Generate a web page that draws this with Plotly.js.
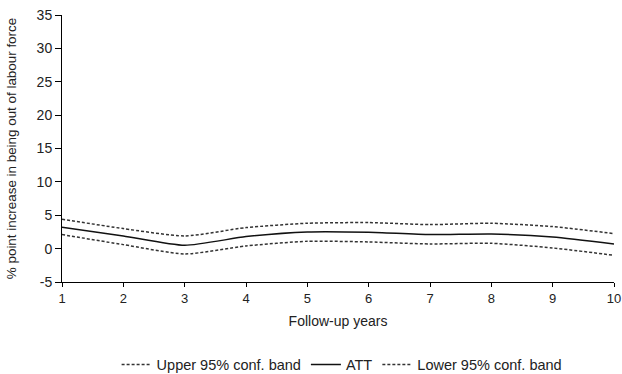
<!DOCTYPE html>
<html><head><meta charset="utf-8">
<script src="https://cdn.plot.ly/plotly-3.0.1.min.js"></script>
<style>body{margin:0;background:#fff}#c{width:622px;height:374px}</style>
</head><body><div id="c"></div>
<script>
const years = [1,2,3,4,5,6,7,8,9,10];
const upper = [4.4,3.0,1.9,3.15,3.8,3.9,3.6,3.8,3.3,2.25];
const att   = [3.2,1.9,0.5,1.8,2.5,2.45,2.1,2.2,1.75,0.7];
const lower = [2.1,0.6,-0.8,0.4,1.1,1.0,0.7,0.8,0.1,-1.0];
const seriesNames = ["Upper 95% conf. band","ATT","Lower 95% conf. band"];
const yTickVals = [-5,0,5,10,15,20,25,30,35];
const yTickText = ["-5","0","5","10","15","20","25","30","35"];

const fam = "Liberation Sans, Arial, sans-serif";
const f = {family:fam, size:14, color:"#222"};
const lf = {family:fam, size:14.5, color:"#222"};
const traces = [
  {x:years,y:upper,name:seriesNames[0],mode:"lines",line:{color:"#333",width:1.5,dash:"3px,2px",shape:"spline",smoothing:0.6}},
  {x:years,y:att,name:seriesNames[1],mode:"lines",line:{color:"#111",width:1.5,shape:"spline",smoothing:0.6}},
  {x:years,y:lower,name:seriesNames[2],mode:"lines",line:{color:"#333",width:1.5,dash:"3px,2px",shape:"spline",smoothing:0.6}}
];
const layout = {
  width:622,height:374,
  margin:{l:62,r:8,t:15,b:92},
  paper_bgcolor:"#fff",plot_bgcolor:"#fff",
  font:f,
  showlegend:true,
  legend:{orientation:"h",x:0.55,xref:"container",xanchor:"center",yref:"container",y:0.025,yanchor:"middle",font:lf,traceorder:"normal",itemwidth:30},
  xaxis:{range:[1,10],tickvals:years,tickfont:{family:fam,size:13,color:"#222"},ticks:"outside",ticklen:4,tickcolor:"#000",showline:true,linecolor:"#000",linewidth:1,showgrid:false,zeroline:false,automargin:false,
         title:{text:"Follow-up years",font:f,standoff:11}},
  yaxis:{range:[-5,35],tickvals:yTickVals,ticktext:yTickText,ticks:"outside",ticklen:6,tickcolor:"#000",showline:true,linecolor:"#000",linewidth:1,showgrid:false,zeroline:false,automargin:false,
         title:{text:"% point increase in being out of labour force",font:{family:fam,size:13.4,color:"#222"},standoff:16}}
};
Plotly.newPlot("c",traces,layout,{displayModeBar:false,staticPlot:true});
</script></body></html>
